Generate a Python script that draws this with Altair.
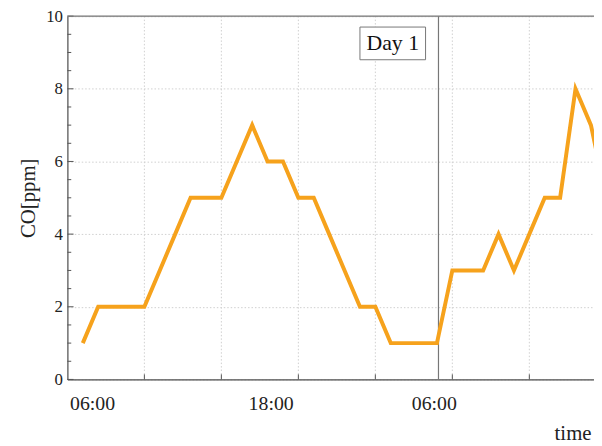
import altair as alt
import pandas as pd

# --- data ---
step_index = list(range(35))
co_ppm = [1, 2, 2, 2, 2, 3, 4, 5, 5, 5, 6, 7, 6, 6, 5, 5, 4, 3, 2, 2,
          1, 1, 1, 1, 3, 3, 3, 4, 3, 4, 5, 5, 8, 7, 5]
time_label_pos = [0.6, 12.2, 22.8]
time_labels = ["06:00", "18:00", "06:00"]
grid_x = [4, 9, 14, 19, 24, 29]
y_minor = [i * 0.5 for i in range(21)]
day_line_x = [23.1]
day_label = ["Day 1"]

X_DOMAIN = [-1, 33.2]
FONT = "Liberation Serif"
ORANGE = "#F6A21C"

df = pd.DataFrame({"i": step_index, "co": co_ppm})
grid_df = pd.DataFrame({"gx": grid_x, "y0": [0] * len(grid_x), "y1": [0.14] * len(grid_x)})
ytick_df = pd.DataFrame({
    "y": y_minor,
    "x0": [X_DOMAIN[0]] * len(y_minor),
    "x1": [X_DOMAIN[0] + (0.4 if v % 2 == 0 else 0.25) for v in y_minor],
})
day_df = pd.DataFrame({"dx": day_line_x})
box_df = pd.DataFrame({"t": day_label, "x0": [18.0], "x1": [22.26], "y0": [8.8], "y1": [9.7],
                       "xc": [20.13], "yc": [9.25]})

label_expr = " : ".join(
    f"abs(datum.value - {p}) < 0.01 ? '{t}'" for p, t in zip(time_label_pos, time_labels)
) + " : ''"

xscale = alt.Scale(domain=X_DOMAIN, nice=False, zero=False)
yscale = alt.Scale(domain=[0, 10], nice=False)

line = alt.Chart(df).mark_line(color=ORANGE, strokeWidth=4, clip=True).encode(
    x=alt.X("i:Q", scale=xscale,
            axis=alt.Axis(values=time_label_pos, labelExpr=label_expr, grid=False, ticks=False,
                          labelFont=FONT, labelFontSize=20, labelColor="#222", labelPadding=14,
                          domainColor="#555", domainWidth=1.2, labelFlush=False,
                          title="time", titleFont=FONT, titleFontSize=21, titleFontWeight="normal",
                          titleColor="#222", titleAlign="right", titleX=529, titleY=55,
                          titleBaseline="middle")),
    y=alt.Y("co:Q", scale=yscale,
            axis=alt.Axis(values=y_minor, labelExpr="datum.value % 2 == 0 ? datum.label : ''",
                          grid=True, gridDash=[1.5, 2], gridColor="#cfcfcf", gridWidth=1,
                          ticks=False, labelFont=FONT, labelFontSize=17, labelColor="#222",
                          labelPadding=5, domainColor="#555", domainWidth=1.2,
                          title="CO[ppm]", titleFont=FONT, titleFontSize=21,
                          titleFontWeight="normal", titleColor="#222", titlePadding=7)),
)

vgrid = alt.Chart(grid_df).mark_rule(color="#cfcfcf", strokeDash=[1.5, 2], strokeWidth=1).encode(
    x=alt.X("gx:Q", scale=xscale)
)
xticks = alt.Chart(grid_df).mark_rule(color="#555", strokeWidth=1).encode(
    x=alt.X("gx:Q", scale=xscale), y=alt.Y("y0:Q", scale=yscale), y2="y1:Q"
)
yticks = alt.Chart(ytick_df).mark_rule(color="#555", strokeWidth=1).encode(
    x=alt.X("x0:Q", scale=xscale), x2="x1:Q", y=alt.Y("y:Q", scale=yscale)
)
top_line = alt.Chart(pd.DataFrame({"ty": [10]})).mark_rule(color="#777", strokeWidth=1.2).encode(
    y=alt.Y("ty:Q", scale=yscale)
)
day_line = alt.Chart(day_df).mark_rule(color="#777", strokeWidth=1.2).encode(
    x=alt.X("dx:Q", scale=xscale)
)
box = alt.Chart(box_df).mark_rect(fill="white", stroke="#777", strokeWidth=1).encode(
    x=alt.X("x0:Q", scale=xscale), x2="x1:Q", y=alt.Y("y0:Q", scale=yscale), y2="y1:Q"
)
box_text = alt.Chart(box_df).mark_text(font=FONT, fontSize=22, color="#111").encode(
    x=alt.X("xc:Q", scale=xscale), y=alt.Y("yc:Q", scale=yscale), text="t:N"
)

chart = alt.layer(vgrid, xticks, yticks, top_line, day_line, line, box, box_text).properties(
    width=532, height=367,
    autosize=alt.AutoSizeParams(type="none"),
    padding={"left": 60, "top": 6, "right": 0, "bottom": 64},
).configure_view(stroke=None).configure(background="white")

chart.save("out.html", embed_options={"renderer": "svg", "actions": False})
